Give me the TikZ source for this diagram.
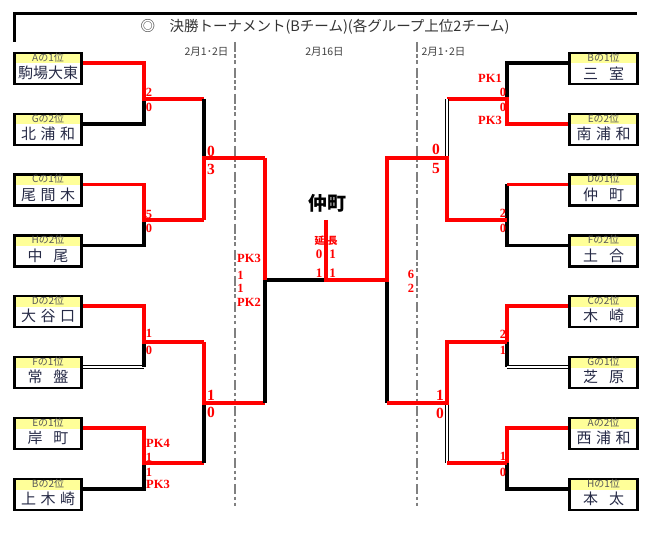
\documentclass[tikz,border=0pt]{standalone}
\usepackage{fontspec}
\setmainfont{Liberation Serif}
\newfontfamily\jp{Noto Sans CJK JP}

\definecolor{hdryellow}{RGB}{255,255,153}
\definecolor{nameblue}{RGB}{38,42,70}
\definecolor{sepgray}{RGB}{128,128,128}

\newcommand{\tsp}{\hspace{4.5pt}}
\newcommand{\wsp}{\hspace{11pt}}

% team box: name, position, header, text
\newcommand{\team}[4]{%
  \node[teambox] (#1) at (#2) {};
  \node[hdrtext] (#1h) at ([yshift=-6pt]#1.north) {#3};
  \node[nametext] (#1n) at ([yshift=-21.5pt]#1.north) {#4};
  \coordinate (#1r) at ([yshift=5.5pt]#1.east);
  \coordinate (#1l) at ([yshift=5.5pt]#1.west);
}

\begin{document}
\begin{tikzpicture}[x=1pt, y=-1pt,
    teambox/.style={draw, line width=2.6pt, minimum width=67.5pt, minimum height=31pt, inner sep=0pt,
      path picture={\fill[hdryellow] (path picture bounding box.north west) rectangle ([yshift=-10.5pt]path picture bounding box.north east);}},
    hdrtext/.style={inner sep=0pt, font=\jp\fontsize{10}{11}\selectfont, text=black!65},
    nametext/.style={inner sep=0pt, font=\jp\fontsize{15}{16}\selectfont, text=nameblue},
    titletext/.style={inner sep=0pt, font=\jp\fontsize{14.5}{16}\selectfont, text=black!80},
    datetext/.style={inner sep=0pt, font=\jp\fontsize{10.5}{12}\selectfont, text=black!75},
    win/.style={red, line width=3.6pt},
    lose/.style={black, line width=3.6pt},
    lose2/.style={black, line width=1pt, double=white, double distance=1.5pt},
    datesep/.style={sepgray, line width=1.8pt, dash pattern=on 10pt off 2.5pt on 3.5pt off 2.5pt on 3.5pt off 4pt},
    sc/.style={red, inner sep=0pt, font=\bfseries\fontsize{12.5}{13}\selectfont},
    bigsc/.style={red, inner sep=0pt, font=\bfseries\fontsize{15.5}{16}\selectfont},
  ]
    \useasboundingbox (0,0) rectangle (661,537);

    % Title
    \draw[line width=3pt] (14.5,42) -- (14.5,13.5) -- (637,13.5);
    \node[titletext] (title) at (325,27) {◎\quad 決勝トーナメント(Bチーム)(各グループ上位2チーム)};

    % Dates and separators
    \node[datetext] (d1) at (206.5,52) {2月1･2日};
    \node[datetext] (d2) at (324.5,52) {2月16日};
    \node[datetext] (d3) at (443.5,52) {2月1･2日};
    \draw[datesep] (234.7,42) -- (234.7,508);
    \draw[datesep] (416.7,42) -- (416.7,508);

    % Left teams
    \team{L1}{48,68.5}{Aの1位}{駒場大東}
    \team{L2}{48,129.5}{Gの2位}{北\tsp 浦\tsp 和}
    \team{L3}{48,190}{Cの1位}{尾\tsp 間\tsp 木}
    \team{L4}{48,251}{Hの2位}{中\wsp 尾}
    \team{L5}{48,311.5}{Dの2位}{大\tsp 谷\tsp 口}
    \team{L6}{48,372.5}{Fの1位}{常\wsp 盤}
    \team{L7}{48,433.5}{Eの1位}{岸\wsp 町}
    \team{L8}{48,494.5}{Bの2位}{上\tsp 木\tsp 崎}

    % Right teams
    \team{R1}{603.5,68.5}{Bの1位}{三\wsp 室}
    \team{R2}{603.5,129.5}{Eの2位}{南\tsp 浦\tsp 和}
    \team{R3}{603.5,190}{Dの1位}{仲\wsp 町}
    \team{R4}{603.5,251}{Fの2位}{土\wsp 合}
    \team{R5}{603.5,311.5}{Cの2位}{木\wsp 崎}
    \team{R6}{603.5,372.5}{Gの1位}{芝\wsp 原}
    \team{R7}{603.5,433.5}{Aの2位}{西\tsp 浦\tsp 和}
    \team{R8}{603.5,494.5}{Hの1位}{本\wsp 太}

    % Junctions
    \coordinate (lA) at (144,99);  \coordinate (lB) at (144,220);
    \coordinate (lC) at (144,342); \coordinate (lD) at (144,463);
    \coordinate (lE) at (204,158); \coordinate (lF) at (204,403);
    \coordinate (lS) at (265,280);
    \coordinate (fin) at (326,280); \coordinate (top) at (326,220);
    \coordinate (rS) at (387,280);
    \coordinate (rE) at (447,158); \coordinate (rF) at (447,403);
    \coordinate (rA) at (507,99);  \coordinate (rB) at (507,220);
    \coordinate (rC) at (507,342); \coordinate (rD) at (507,463);

    % Left bracket
    \draw[lose] (L2r) -| (lA);
    \draw[win] (L1r) -| (lA) -- (lA -| lE);
    \draw[lose] (L4r) -| (lB);
    \draw[win] (L3r) -| (lB) -- (lB -| lE);
    \draw[lose2] (L6r) -- (L6r -| lC);
    \draw[lose] (L6r -| lC) -- (lC);
    \draw[win] (L5r) -| (lC) -- (lC -| lF);
    \draw[lose] (L8r) -| (lD);
    \draw[win] (L7r) -| (lD) -- (lD -| lF);
    \draw[lose] (lA -| lE) -- (lE);
    \draw[win] (lB -| lE) -- (lE) -- (lE -| lS);
    \draw[lose] (lD -| lF) -- (lF);
    \draw[win] (lC -| lF) -- (lF) -- (lF -| lS);
    \draw[lose] (lF -| lS) -- (lS) -- (fin);
    \draw[win] (lE -| lS) -- (lS);

    % Right bracket
    \draw[lose] (R1l) -| (rA);
    \draw[win] (R2l) -| (rA) -- (rA -| rE);
    \draw[lose2] (rA -| rE) -- (rE);
    \draw[lose] (R4l) -| (R3l -| rB);
    \draw[win] (R3l) -- (R3l -| rB);
    \draw[lose] (rC) -- (rC |- R6l);
    \draw[lose2] (rC |- R6l) -- (R6l);
    \draw[win] (R5l) -| (rC);
    \draw[lose] (R8l) -| (rD);
    \draw[win] (R7l) -| (rD);
    \draw[lose2] (rF) -- (rD -| rF);
    \draw[win] (rD -| rF) -- (rD);
    \draw[lose] (rS) -- (rF -| rS);
    \draw[win] (rF -| rS) -- (rF) -- (rC -| rF) -- (rC);
    \draw[win] (top) -- (fin) -- (rS) -- (rE -| rS) -- (rE) -- (rB -| rE) -- (rB);

    % Champion
    \node[font=\jp\bfseries\fontsize{19}{20}\selectfont] (champ) at (327,203) {仲町};
    \node[red, inner sep=0pt, font=\jp\bfseries\fontsize{10}{10}\selectfont] (ext) at (326,241) {延\hspace{3pt}長};
    \node[sc, font=\bfseries\fontsize{13}{13}\selectfont] (f1) at (319,254) {0};
    \node[sc, font=\bfseries\fontsize{13}{13}\selectfont] (f2) at (332.5,254) {1};
    \node[sc, font=\bfseries\fontsize{13}{13}\selectfont] (f3) at (319,273) {1};
    \node[sc, font=\bfseries\fontsize{13}{13}\selectfont] (f4) at (332.5,273) {1};

    % Left scores
    \node[sc] (s1) at (149,92) {2};   \node[sc] (s2) at (149,107) {0};
    \node[sc] (s3) at (149,214) {5};  \node[sc] (s4) at (149,228) {0};
    \node[sc] (s5) at (149,333) {1};  \node[sc] (s6) at (149,350) {0};
    \node[sc, anchor=west] (s7) at (146,443) {PK4};
    \node[sc] (s8) at (149,457) {1};  \node[sc] (s9) at (149,472) {1};
    \node[sc, anchor=west] (s10) at (146,484) {PK3};
    \node[bigsc] (q1) at (211,151) {0}; \node[bigsc] (q2) at (211,169) {3};
    \node[bigsc] (q3) at (211,395) {1}; \node[bigsc] (q4) at (211,412) {0};
    \node[sc, anchor=west] (p1) at (237,258) {PK3};
    \node[sc] (p2) at (240.5,275) {1}; \node[sc] (p3) at (240.5,288) {1};
    \node[sc, anchor=west] (p4) at (237,302) {PK2};

    % Right scores
    \node[sc, anchor=east] (t1) at (502,78) {PK1};
    \node[sc] (t2) at (503,92) {0};   \node[sc] (t3) at (503,107) {0};
    \node[sc, anchor=east] (t4) at (502,120) {PK3};
    \node[sc] (t5) at (503,213) {2};  \node[sc] (t6) at (503,228) {0};
    \node[sc] (t7) at (503,334) {2};  \node[sc] (t8) at (503,350) {1};
    \node[sc] (t9) at (503,456) {1};  \node[sc] (t10) at (503,472) {0};
    \node[bigsc] (u1) at (436,149) {0}; \node[bigsc] (u2) at (436,169) {5};
    \node[bigsc] (u3) at (440,395) {1}; \node[bigsc] (u4) at (440,413) {0};
    \node[sc] (v1) at (411,274) {6}; \node[sc] (v2) at (411,288) {2};

\end{tikzpicture}
\end{document}
